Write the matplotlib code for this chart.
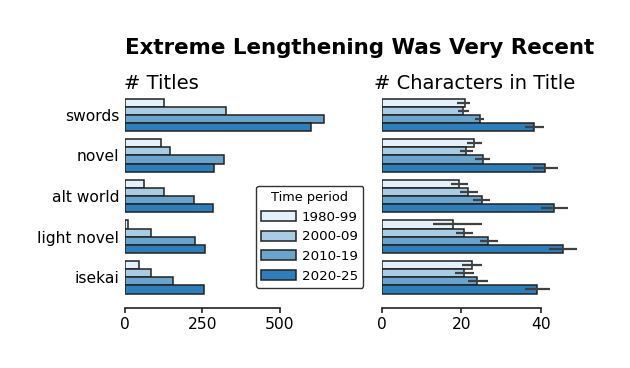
import matplotlib
matplotlib.use("Agg")
import matplotlib.pyplot as plt
import numpy as np

plt.rcParams['font.family'] = ['DejaVu Sans']

categories = ["swords", "novel", "alt world", "light novel", "isekai"]
periods = ["1980-99", "2000-09", "2010-19", "2020-25"]
colors = ["#e4f0fa", "#a8cce4", "#6aa4cc", "#2e7ebc"]

# number of titles, per period x category
titles = {
    "1980-99": [128, 117, 61, 10, 46],
    "2000-09": [327, 146, 127, 85, 85],
    "2010-19": [643, 321, 224, 227, 156],
    "2020-25": [599, 288, 285, 257, 254],
}

# mean characters in title
chars = {
    "1980-99": [20.8, 23.3, 19.5, 18.0, 22.6],
    "2000-09": [20.4, 21.3, 21.8, 20.6, 20.6],
    "2010-19": [24.6, 25.4, 25.1, 26.7, 23.9],
    "2020-25": [38.3, 41.0, 43.3, 45.6, 39.0],
}
chars_err_lo = {
    "1980-99": [1.8, 1.8, 2.0, 5.1, 2.5],
    "2000-09": [1.35, 1.7, 2.2, 2.0, 2.3],
    "2010-19": [1.2, 1.95, 2.1, 2.1, 2.3],
    "2020-25": [2.3, 2.95, 3.3, 3.5, 3.0],
}
chars_err_hi = {
    "1980-99": [1.35, 1.8, 2.3, 7.1, 2.5],
    "2000-09": [1.5, 1.7, 2.3, 2.3, 2.5],
    "2010-19": [1.2, 1.95, 2.1, 2.45, 2.8],
    "2020-25": [2.45, 3.3, 3.55, 3.46, 3.3],
}

fig = plt.figure(figsize=(6.3, 3.68), dpi=100)
axL = fig.add_axes([124.7/630, 1-297.6/368, 230/630, (297.6-94.5)/368])
axR = fig.add_axes([382/630, 1-297.6/368, 230/630, (297.6-94.5)/368])

ypos = np.arange(len(categories))
bh = 0.2
for i, p in enumerate(periods):
    off = -0.3 + 0.2*i
    axL.barh(ypos + off, titles[p], height=bh, color=colors[i],
             edgecolor="#222222", linewidth=1.1, label=p)
    axR.barh(ypos + off, chars[p], height=bh, color=colors[i],
             edgecolor="#222222", linewidth=1.1,
             xerr=[chars_err_lo[p], chars_err_hi[p]],
             error_kw=dict(ecolor="#404040", elinewidth=1.6, capsize=0))

for ax in (axL, axR):
    ax.set_ylim(4.5, -0.5)
    for s in ("top", "right", "left"):
        ax.spines[s].set_visible(False)
    ax.spines["bottom"].set_position(("outward", 7.3))
    ax.spines["bottom"].set_linewidth(1.2)
    ax.spines["bottom"].set_color("#222222")
    ax.tick_params(axis="x", length=3.5, width=1.2, color="#222222",
                   labelsize=11.2, pad=3)
    ax.tick_params(axis="y", length=0, labelsize=11.2, pad=4)

axL.set_xlim(0, 230/0.3106)
axL.set_xticks([0, 250, 500])
axL.spines["bottom"].set_bounds(0, 500)
axL.set_yticks(ypos)
axL.set_yticklabels(categories)

axR.set_xlim(0, 230/3.967)
axR.set_xticks([0, 20, 40])
axR.spines["bottom"].set_bounds(0, 40)
axR.set_yticks([])

fig.text(124/630, 1-89/368, "# Titles", fontsize=14, ha="left", va="baseline")
fig.text(374/630, 1-89/368, "# Characters in Title", fontsize=14, ha="left", va="baseline")

fig.text(125/630, 1-54.5/368, "Extreme Lengthening Was Very Recent",
         fontsize=15.4, fontweight="bold", ha="left", va="baseline")

leg = axL.legend(title="Time period", loc="lower left",
                 bbox_to_anchor=(256/630, 1-288/368), bbox_transform=fig.transFigure,
                 fontsize=9.6, title_fontsize=9.3, frameon=True, fancybox=True,
                 edgecolor="#333333", framealpha=1, borderaxespad=0,
                 handlelength=2.6, handleheight=0.75, handletextpad=0.45,
                 labelspacing=0.5)
leg.get_frame().set_linewidth(1.0)

fig.savefig("out.png", dpi=100)
